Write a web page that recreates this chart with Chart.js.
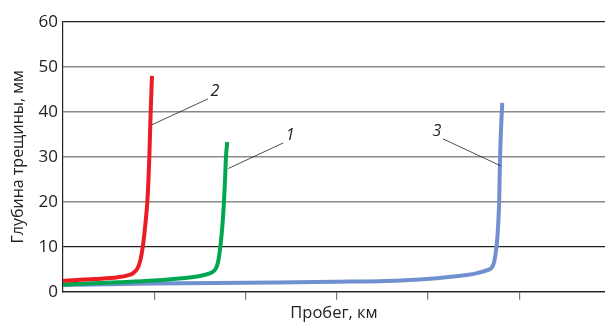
<!DOCTYPE html>
<html>
<head>
<meta charset="utf-8">
<script src="https://cdn.jsdelivr.net/npm/chart.js@4"></script>
<style>
  html, body { margin: 0; padding: 0; background: #fff; }
  #wrap { width: 605px; height: 323px; }
</style>
</head>
<body>
<div id="wrap"><canvas id="crackChart" width="605" height="323"></canvas></div>
<script>
// curve 2 (red)
const redX = [0, 0.35, 0.6, 0.72, 0.76, 0.79, 0.81, 0.83, 0.85, 0.865, 0.878, 0.895, 0.91, 0.924, 0.937, 0.946, 0.961, 0.975];
const redY = [2.4, 2.8, 3.2, 3.7, 4.0, 4.5, 5.0, 5.8, 7.2, 8.8, 10.5, 13.5, 16.5, 20, 25, 30, 40, 48];
// curve 1 (green)
const greenX = [0, 0.6, 1.0, 1.3, 1.5, 1.6, 1.64, 1.67, 1.69, 1.705, 1.72, 1.735, 1.75, 1.764, 1.776, 1.786, 1.8];
const greenY = [1.6, 2.1, 2.5, 3.0, 3.5, 4.0, 4.4, 5.0, 5.9, 7.2, 9.3, 12, 15.5, 20, 25, 30, 33.3];
// curve 3 (blue)
const blueX = [0, 1, 2, 3, 3.7, 4.1, 4.42, 4.55, 4.65, 4.7, 4.725, 4.745, 4.76, 4.772, 4.78, 4.79, 4.8, 4.814];
const blueY = [1.5, 1.8, 2.0, 2.2, 2.5, 3.0, 3.7, 4.2, 4.8, 5.4, 6.6, 9.0, 12, 16, 20, 30, 36, 42];

const xTicks = [1, 2, 3, 4, 5];
const yTicks = [0, 10, 20, 30, 40, 50, 60];

// leader labels: text, point on curve, end of leader
const curveLabels = ['2', '1', '3'];
const leaderFrom = [[0.971, 37.1], [1.811, 27.4], [4.797, 28]];
const leaderTo = [[1.589, 42.9], [2.414, 33.1], [4.164, 34]];

const toPoints = (xs, ys) => xs.map((x, i) => ({ x, y: ys[i] }));

const leaderPlugin = {
  id: 'leaders',
  afterDatasetsDraw(chart) {
    const { ctx, scales: { x, y } } = chart;
    ctx.save();
    ctx.strokeStyle = '#222';
    ctx.lineWidth = 0.8;
    ctx.fillStyle = '#222';
    ctx.font = 'italic 16px "Open Sans", sans-serif';
    ctx.textBaseline = 'middle';
    ctx.textAlign = 'center';
    curveLabels.forEach((txt, i) => {
      const x1 = x.getPixelForValue(leaderFrom[i][0]), y1 = y.getPixelForValue(leaderFrom[i][1]);
      const x2 = x.getPixelForValue(leaderTo[i][0]), y2 = y.getPixelForValue(leaderTo[i][1]);
      ctx.beginPath();
      ctx.moveTo(x1, y1);
      ctx.lineTo(x2, y2);
      ctx.stroke();
      const dx = x2 > x1 ? 7 : -6;
      ctx.fillText(txt, x2 + dx, y2 - 7);
    });
    ctx.restore();
  }
};

const line = (data, color) => ({
  data,
  borderColor: color,
  borderWidth: 4,
  pointRadius: 0,
  fill: false,
  cubicInterpolationMode: 'monotone'
});

new Chart(document.getElementById('crackChart'), {
  type: 'line',
  data: {
    datasets: [
      line(toPoints(redX, redY), '#ec1c24'),
      line(toPoints(greenX, greenY), '#00a650'),
      line(toPoints(blueX, blueY), '#7190cf')
    ]
  },
  options: {
    responsive: false,
    animation: false,
    layout: { padding: { top: 22, right: 0, left: 0, bottom: 0 } },
    plugins: { legend: { display: false }, tooltip: { enabled: false } },
    scales: {
      x: {
        type: 'linear',
        min: 0,
        max: 5.94,
        afterBuildTicks: s => { s.ticks = xTicks.map(v => ({ value: v })); },
        afterFit: s => { s.height = 31.3; },
        ticks: { display: false },
        grid: {
          drawOnChartArea: false,
          drawTicks: true,
          tickLength: 8,
          color: '#777',
          lineWidth: 1.2
        },
        border: { color: '#222', width: 1.2 },
        title: {
          display: true,
          text: 'Пробег, км',
          color: '#222',
          font: { family: '"Open Sans", sans-serif', size: 16.5 },
          padding: { top: 0, bottom: 0 }
        }
      },
      y: {
        min: 0,
        max: 60,
        afterBuildTicks: s => { s.ticks = yTicks.map(v => ({ value: v })); },
        afterFit: s => { s.width = 63; },
        ticks: {
          color: '#222',
          padding: 5,
          font: { family: '"Open Sans", sans-serif', size: 17 }
        },
        grid: {
          drawTicks: false,
          color: c => (c.tick.value === 10 || c.tick.value === 60) ? '#222' : '#8a8a8a',
          lineWidth: c => (c.tick.value === 10 || c.tick.value === 60) ? 1.2 : 1.5
        },
        border: { color: '#222', width: 1.2 },
        title: {
          display: true,
          text: 'Глубина трещины, мм',
          color: '#222',
          font: { family: '"Open Sans", sans-serif', size: 16 },
          padding: { top: 9, bottom: 0 }
        }
      }
    }
  },
  plugins: [leaderPlugin]
});
</script>
</body>
</html>
